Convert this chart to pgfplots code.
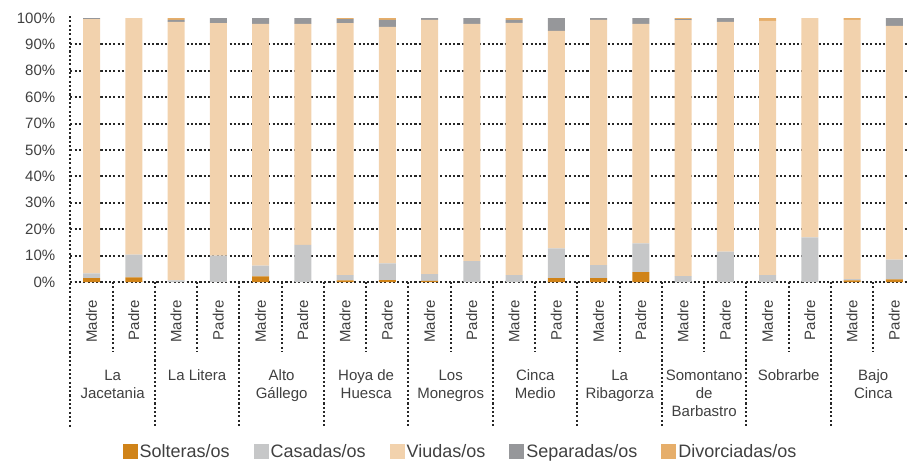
\documentclass[border=0pt]{standalone}
\usepackage{pgfplots}
\pgfplotsset{compat=1.18}
\usepackage{pgfplotstable}
\usepackage{fontspec}
\setmainfont{Liberation Sans}
\definecolor{csol}{HTML}{D08318}
\definecolor{ccas}{HTML}{C6C7C8}
\definecolor{cviu}{HTML}{F2D2AD}
\definecolor{csep}{HTML}{96979A}
\definecolor{cdiv}{HTML}{E6AE6A}
\definecolor{txt}{HTML}{404040}
\pgfplotstableread{
x S C V Sep D
0 1.5 1.75 96.35 0.4 0
1 1.75 8.6 89.65 0 0
2 0 0.6 97.9 0.75 0.75
3 0 10 88.1 1.9 0
4 2.1 4.15 91.5 2.25 0
5 0 14.1 83.65 2.25 0
6 0.6 2.0 95.5 1.5 0.4
7 0.75 6.35 89.55 2.6 0.75
8 0.4 2.6 96.25 0.75 0
9 0 7.9 89.85 2.25 0
10 0 2.6 95.55 1.1 0.75
11 1.5 11.25 82.35 4.9 0
12 1.5 4.9 92.85 0.75 0
13 3.75 10.85 83.15 2.25 0
14 0 2.25 96.95 0.4 0.4
15 0 11.5 87.0 1.5 0
16 0 2.6 96.3 0 1.1
17 0 16.9 83.1 0 0
18 0.6 0.5 98.15 0 0.75
19 1.0 7.5 88.5 3.0 0
}\datatab
\tikzset{dotsty/.style={draw=black!85, line width=2.1pt, dash pattern=on 2.1pt off 2.2pt}}
\pgfplotsset{sqlegend/.style={legend image code/.code={\fill[##1] (0pt,-7.5pt) rectangle (15pt,7.5pt);}}}
\begin{document}
\begin{tikzpicture}
\begin{axis}[
  at={(0,0)}, anchor=south west,
  scale only axis, width=836.6pt, height=264pt,
  ybar stacked, bar width=17pt,
  xmin=-0.5, xmax=19.3, ymin=0, ymax=100,
  axis line style={draw=none},
  major tick length=0pt, tick style={draw=none},
  xtick={0,...,19},
  xticklabels={Madre,Padre,Madre,Padre,Madre,Padre,Madre,Padre,Madre,Padre,Madre,Padre,Madre,Padre,Madre,Padre,Madre,Padre,Madre,Padre},
  xticklabel style={rotate=90, anchor=east, inner sep=0pt},
  xticklabel shift=18pt,
  ytick={0,10,...,90},
  yticklabels={0\%,10\%,20\%,30\%,40\%,50\%,70\%,60\%,80\%,90\%},
  extra y ticks={100}, extra y tick labels={100\%}, extra y tick style={grid=none},
  ymajorgrids, grid style={dotsty},
  yticklabel style={anchor=east, inner sep=0pt},
  yticklabel shift=15pt,
  tick label style={font=\fontsize{15}{18}\selectfont, text=txt},
  clip=false,
  legend style={at={(0.4663,-0.643)}, anchor=center, legend columns=5, draw=none, fill=none,
    font=\fontsize{18}{21}\selectfont, text=txt,
    /tikz/every even column/.append style={column sep=22pt}},
  legend cell align=left,
]
\addplot[fill=csol, draw=none, sqlegend] table[x=x, y=S]{\datatab};
\addplot[fill=ccas, draw=none, sqlegend] table[x=x, y=C]{\datatab};
\addplot[fill=cviu, draw=none, sqlegend] table[x=x, y=V]{\datatab};
\addplot[fill=csep, draw=none, sqlegend] table[x=x, y=Sep]{\datatab};
\addplot[fill=cdiv, draw=none, sqlegend] table[x=x, y=D]{\datatab};
\legend{Solteras/os, Casadas/os, Viudas/os, Separadas/os, Divorciadas/os}
\draw[dotsty] (axis cs:-0.5,0) -- (axis cs:19.3,0);
\draw[dotsty] (axis cs:-0.5,100) ++(0pt,2pt) -- (axis cs:-0.5,0) -- ++(0pt,-145pt);
\draw[dotsty] (axis cs:1.5,0) -- ++(0pt,-145pt);
\draw[dotsty] (axis cs:3.5,0) -- ++(0pt,-145pt);
\draw[dotsty] (axis cs:5.5,0) -- ++(0pt,-145pt);
\draw[dotsty] (axis cs:7.5,0) -- ++(0pt,-145pt);
\draw[dotsty] (axis cs:9.5,0) -- ++(0pt,-145pt);
\draw[dotsty] (axis cs:11.5,0) -- ++(0pt,-145pt);
\draw[dotsty] (axis cs:13.5,0) -- ++(0pt,-145pt);
\draw[dotsty] (axis cs:15.5,0) -- ++(0pt,-145pt);
\draw[dotsty] (axis cs:17.5,0) -- ++(0pt,-145pt);
\draw[dotsty] (axis cs:0.5,0) -- ++(0pt,-70pt);
\draw[dotsty] (axis cs:2.5,0) -- ++(0pt,-70pt);
\draw[dotsty] (axis cs:4.5,0) -- ++(0pt,-70pt);
\draw[dotsty] (axis cs:6.5,0) -- ++(0pt,-70pt);
\draw[dotsty] (axis cs:8.5,0) -- ++(0pt,-70pt);
\draw[dotsty] (axis cs:10.5,0) -- ++(0pt,-70pt);
\draw[dotsty] (axis cs:12.5,0) -- ++(0pt,-70pt);
\draw[dotsty] (axis cs:14.5,0) -- ++(0pt,-70pt);
\draw[dotsty] (axis cs:16.5,0) -- ++(0pt,-70pt);
\draw[dotsty] (axis cs:18.5,0) -- ++(0pt,-70pt);
\tikzset{grp/.style={font=\fontsize{15}{18}\selectfont, text=txt, align=center, anchor=north, inner sep=0pt, yshift=-87.6pt}}
\node[grp] at (axis cs:0.5,0) {La\\Jacetania};
\node[grp] at (axis cs:2.5,0) {La Litera};
\node[grp] at (axis cs:4.5,0) {Alto\\Gállego};
\node[grp] at (axis cs:6.5,0) {Hoya de\\Huesca};
\node[grp] at (axis cs:8.5,0) {Los\\Monegros};
\node[grp] at (axis cs:10.5,0) {Cinca\\Medio};
\node[grp] at (axis cs:12.5,0) {La\\Ribagorza};
\node[grp] at (axis cs:14.5,0) {Somontano\\de\\Barbastro};
\node[grp] at (axis cs:16.5,0) {Sobrarbe};
\node[grp] at (axis cs:18.5,0) {Bajo\\Cinca};
\end{axis}
\pgfresetboundingbox
\useasboundingbox (-70.4pt,-179pt) rectangle (836.6pt,282pt);
\end{tikzpicture}
\end{document}
